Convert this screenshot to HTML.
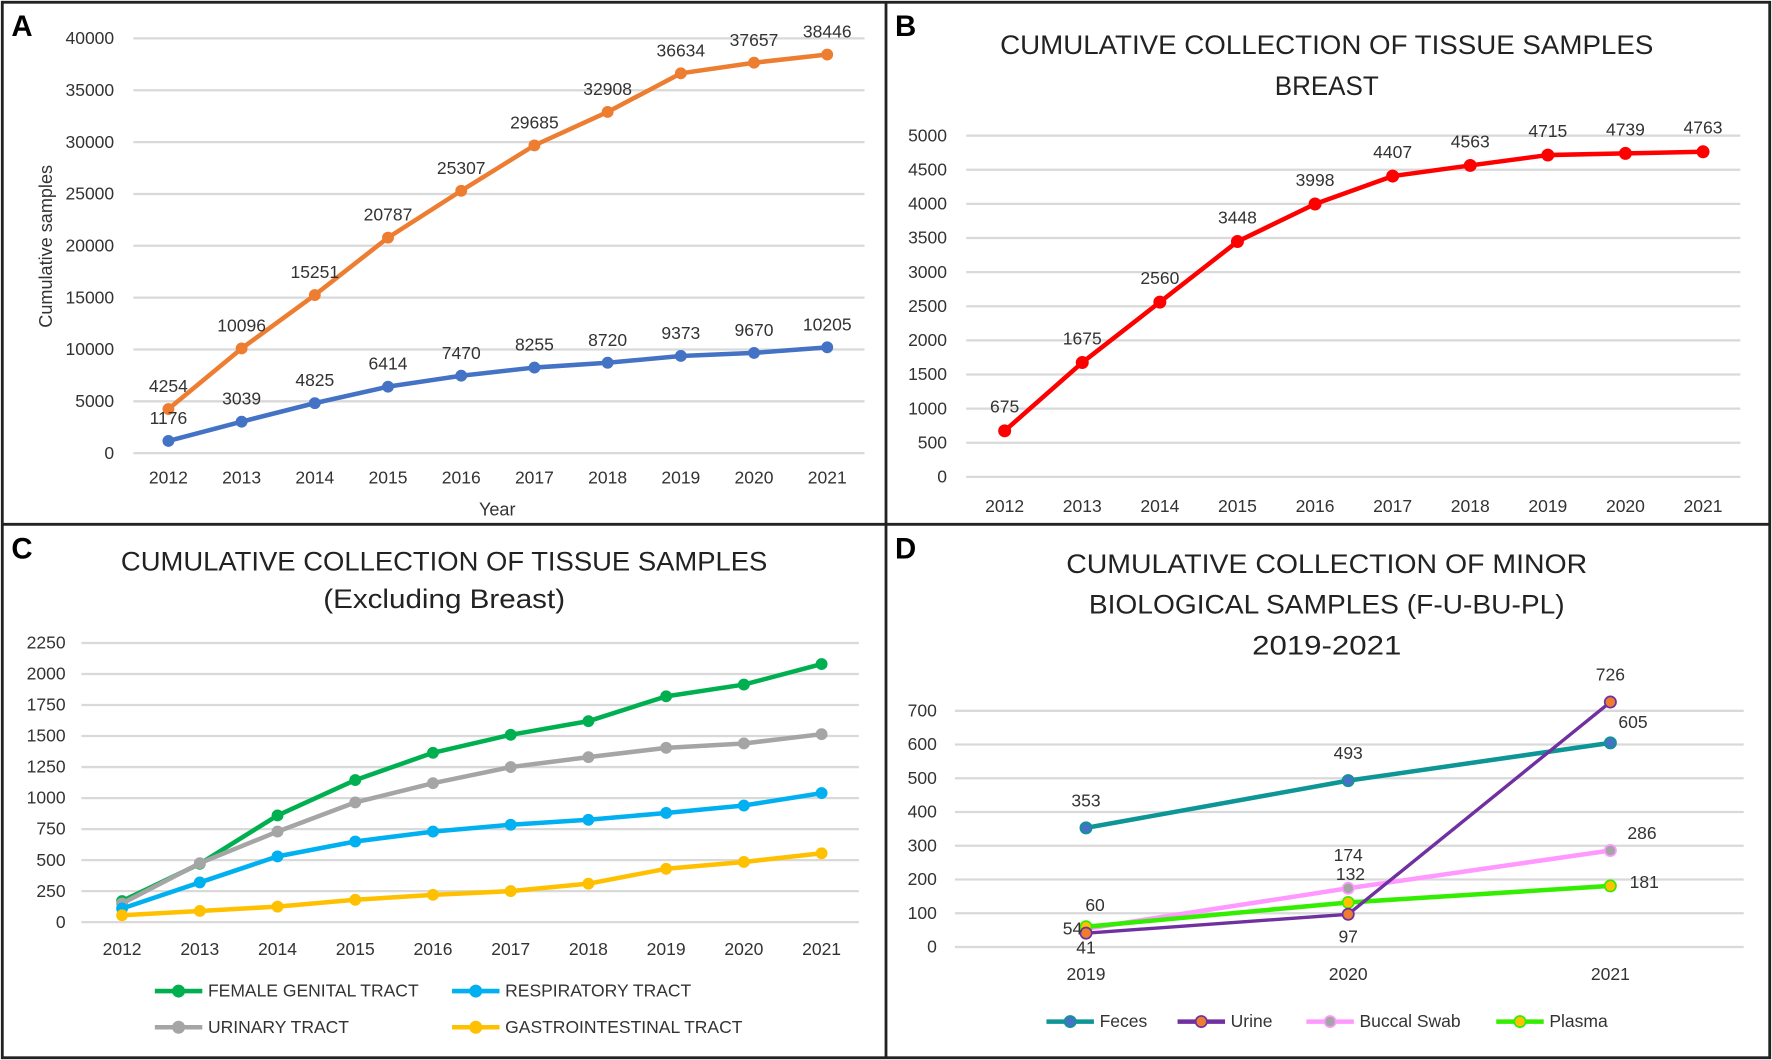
<!DOCTYPE html>
<html><head><meta charset="utf-8"><style>
html,body{margin:0;padding:0;background:#fff}
svg{display:block}
text{font-family:"Liberation Sans Narrow","Liberation Sans",sans-serif;fill:#333}
</style></head><body>
<svg id="fig" width="1772" height="1060" viewBox="0 0 1568 938" xmlns="http://www.w3.org/2000/svg">
<rect x="2" y="2" width="1564" height="934" fill="#fff" stroke="#222" stroke-width="2.5"/>
<line x1="784" y1="2" x2="784" y2="936" stroke="#222" stroke-width="2.5"/>
<line x1="2" y1="464" x2="1566" y2="464" stroke="#222" stroke-width="2.5"/>
<g id="g"></g>
</svg>
<script>
// ---- data ----
const yearsA=["2012","2013","2014","2015","2016","2017","2018","2019","2020","2021"];
const seriesAOrange=[4254,10096,15251,20787,25307,29685,32908,36634,37657,38446];
const seriesABlue=[1176,3039,4825,6414,7470,8255,8720,9373,9670,10205];
const ticksA=[0,5000,10000,15000,20000,25000,30000,35000,40000];
const yearsB=["2012","2013","2014","2015","2016","2017","2018","2019","2020","2021"];
const seriesBBreast=[675,1675,2560,3448,3998,4407,4563,4715,4739,4763];
const ticksB=[0,500,1000,1500,2000,2500,3000,3500,4000,4500,5000];
const yearsC=["2012","2013","2014","2015","2016","2017","2018","2019","2020","2021"];
const seriesCFemale=[170,470,860,1145,1365,1510,1620,1820,1915,2080];
const seriesCUrinary=[150,475,730,965,1120,1250,1330,1405,1440,1515];
const seriesCRespiratory=[110,320,530,650,730,785,825,880,940,1040];
const seriesCGastro=[55,90,125,180,220,250,310,430,485,555];
const ticksC=[0,250,500,750,1000,1250,1500,1750,2000,2250];
const yearsD=["2019","2020","2021"];
const seriesDFeces=[353,493,605];
const seriesDUrine=[41,97,726];
const seriesDBuccal=[54,174,286];
const seriesDPlasma=[60,132,181];
const ticksD=[0,100,200,300,400,500,600,700];

const NS="http://www.w3.org/2000/svg";
const G=document.getElementById('g');
function el(tag,attrs,parent){const e=document.createElementNS(NS,tag);for(const k in attrs)e.setAttribute(k,attrs[k]);(parent||G).appendChild(e);return e;}
function txt(x,y,s,size,anchor,name,extra){const t=el('text',Object.assign({x:x,y:y,'font-size':size,'text-anchor':anchor||'middle'},extra||{}));t.textContent=s;


return t;}
function title(x,y,s,len,name){return txt(x,y,s,24,'middle',name,{textLength:len,lengthAdjust:'spacingAndGlyphs',style:'fill:#222'});}

function makeAxes(cfg){
  const xs=i=>cfg.x0+i*(cfg.x1-cfg.x0)/(cfg.cats.length-1);
  const ys=v=>cfg.y0-(v-cfg.tmin)/(cfg.tmax-cfg.tmin)*(cfg.y0-cfg.y1);
  cfg.ticks.forEach(t=>{
    const l=el('line',{x1:cfg.gx0,x2:cfg.gx1,y1:ys(t),y2:ys(t),stroke:'#d9d9d9','stroke-width':2});
    
    
    txt(cfg.lx,ys(t)+5,String(t),15.5,'end','y-tick-label');
  });
  cfg.cats.forEach((c,i)=>txt(xs(i),cfg.xly,c,15.5,'middle','x-tick-label'));
  return {xs,ys};
}
function drawSeries(ax,vals,color,mcolor,name,w,r){
  const pts=vals.map((v,i)=>ax.xs(i)+','+ax.ys(v)).join(' ');
  const p=el('polyline',{points:pts,fill:'none',stroke:color,'stroke-width':w||4,'stroke-linejoin':'round'});
  
  
  vals.forEach((v,i)=>{
    const c=el('circle',{cx:ax.xs(i),cy:ax.ys(v),r:r||4.5,fill:mcolor||color,stroke:color,'stroke-width':1.5});
    
    
  });
}
function labels(ax,vals,dx,dy,name){
  vals.forEach((v,i)=>{const d=Array.isArray(dx)?dx[i]:dx, e=Array.isArray(dy)?dy[i]:dy;
    txt(ax.xs(i)+d,ax.ys(v)+e,String(v),15.5,'middle',name+'-value-label');});
}
function legendItem(x,y,color,mcolor,label,name){
  const l=el('line',{x1:x,x2:x+42,y1:y,y2:y,stroke:color,'stroke-width':4});
  
  
  const c=el('circle',{cx:x+21,cy:y,r:5,fill:mcolor||color,stroke:color,'stroke-width':1.5});
  
  
  txt(x+47,y+5,label,15.5,'start',name+'-legend-label');
}
const letterStyle={'font-weight':'bold','style':'font-family:"Liberation Sans",sans-serif;fill:#000'};

// Panel A
txt(10,32,"A",26,'start','panel-a-letter',letterStyle);
const axA=makeAxes({cats:yearsA,ticks:ticksA,tmin:0,tmax:40000,x0:149,x1:732,y0:401,y1:34,gx0:118,gx1:765,lx:101,xly:428});
drawSeries(axA,seriesAOrange,'#ED7D31','#ED7D31','total-samples',4,4.5);
drawSeries(axA,seriesABlue,'#4472C4','#4472C4','patients',4,4.5);
labels(axA,seriesAOrange,0,-15,'orange');
labels(axA,seriesABlue,0,-15,'blue');
txt(440,456,"Year",16,'middle','x-axis-title');
txt(46,218,"Cumulative samples",16,'middle','y-axis-title',{transform:'rotate(-90 46 218)'});

// Panel B
txt(792,32,"B",26,'start','panel-b-letter',letterStyle);
title(1174,48,"CUMULATIVE COLLECTION OF TISSUE SAMPLES",578,'panel-b-title');
title(1174,84,"BREAST",92,'panel-b-title-line2');
const axB=makeAxes({cats:yearsB,ticks:ticksB,tmin:0,tmax:5000,x0:889,x1:1507,y0:422,y1:120,gx0:855,gx1:1540,lx:838,xly:453});
drawSeries(axB,seriesBBreast,'#FF0000','#FF0000','breast',4,5);
labels(axB,seriesBBreast,0,-16,'breast');

// Panel C
txt(10,494,"C",26,'start','panel-c-letter',letterStyle);
title(393,505,"CUMULATIVE COLLECTION OF TISSUE SAMPLES",572,'panel-c-title');
title(393,538,"(Excluding Breast)",214,'panel-c-subtitle');
const axC=makeAxes({cats:yearsC,ticks:ticksC,tmin:0,tmax:2250,x0:108,x1:727,y0:816,y1:569,gx0:72,gx1:760,lx:58,xly:845});
drawSeries(axC,seriesCFemale,'#00B050','#00B050','female-genital-tract',4,4.5);
drawSeries(axC,seriesCUrinary,'#A5A5A5','#A5A5A5','urinary-tract',4,4.5);
drawSeries(axC,seriesCRespiratory,'#00B0F0','#00B0F0','respiratory-tract',4,4.5);
drawSeries(axC,seriesCGastro,'#FFC000','#FFC000','gastrointestinal-tract',4,4.5);
legendItem(137,877,'#00B050',null,"FEMALE GENITAL TRACT",'female-genital-tract');
legendItem(400,877,'#00B0F0',null,"RESPIRATORY TRACT",'respiratory-tract');
legendItem(137,909,'#A5A5A5',null,"URINARY TRACT",'urinary-tract');
legendItem(400,909,'#FFC000',null,"GASTROINTESTINAL TRACT",'gastrointestinal-tract');

// Panel D
txt(792,494,"D",26,'start','panel-d-letter',letterStyle);
title(1174,507,"CUMULATIVE COLLECTION OF MINOR",461,'panel-d-title');
title(1174,543,"BIOLOGICAL SAMPLES (F-U-BU-PL)",421,'panel-d-title-line2');
title(1174,579,"2019-2021",132,'panel-d-title-line3');
const axD=makeAxes({cats:yearsD,ticks:ticksD,tmin:0,tmax:700,x0:961,x1:1425,y0:838,y1:629,gx0:845,gx1:1543,lx:829,xly:867});
drawSeries(axD,seriesDFeces,'#0E9595','#4472C4','feces',4,5);
drawSeries(axD,seriesDBuccal,'#FF99FF','#A5A5A5','buccal-swab',4,5);
drawSeries(axD,seriesDPlasma,'#33EE00','#FFC000','plasma',4,5);
drawSeries(axD,seriesDUrine,'#7030A0','#ED7D31','urine',3,5);
labels(axD,seriesDFeces,[0,0,20],[-19,-19,-13],'feces');
labels(axD,seriesDUrine,[0,0,0],[18,25,-19],'urine');
labels(axD,seriesDBuccal,[-12,0,28],[5,-24,-10],'buccal-swab');
labels(axD,seriesDPlasma,[8,2,30],[-14,-20,2],'plasma');
legendItem(926,904,'#0E9595','#4472C4',"Feces",'feces');
legendItem(1042,904,'#7030A0','#ED7D31',"Urine",'urine');
legendItem(1156,904,'#FF99FF','#A5A5A5',"Buccal Swab",'buccal-swab');
legendItem(1324,904,'#33EE00','#FFC000',"Plasma",'plasma');
</script>
</body></html>
